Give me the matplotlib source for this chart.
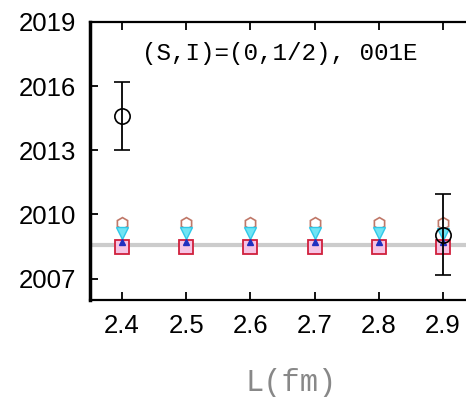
import matplotlib.pyplot as plt

# lattice sizes
L = [2.4, 2.5, 2.6, 2.7, 2.8, 2.9]

# mass estimates per method
hex_vals = [2009.6, 2009.6, 2009.6, 2009.6, 2009.6, 2009.6]
tri_down_vals = [2009.15, 2009.15, 2009.15, 2009.15, 2009.15, 2009.1]
tri_up_vals = [2008.7, 2008.7, 2008.7, 2008.7, 2008.7, 2008.7]
square_vals = [2008.5, 2008.5, 2008.5, 2008.5, 2008.5, 2008.5]

# measured points with errors
L_meas = [2.4, 2.9]
meas_vals = [2014.6, 2009.05]
meas_err = [1.6, 1.9]

# reference level
ref_level = 2008.55

yticks = [2007, 2010, 2013, 2016, 2019]
xticks = [2.4, 2.5, 2.6, 2.7, 2.8, 2.9]

fig = plt.figure(figsize=(4.66, 3.97), dpi=100)
ax = fig.add_axes([0.193, 0.2443, 0.895, 0.7003])

ax.axhline(ref_level, color='#cccccc', lw=3, zorder=1)

ax.plot(L, hex_vals, 'h', ms=8.5, mfc='none', mec='#c07868', mew=1.2, zorder=3)
ax.plot(L, tri_down_vals, 'v', ms=8, mfc='#70e4f4', mec='#30c8e8', zorder=3)
ax.plot(L, square_vals, 's', ms=9.5, mfc='#f6c4e4', mec='#d0203c', mew=1.3, zorder=3)
ax.plot(L, tri_up_vals, '^', ms=5, mfc='#2030c0', mec='#2030c0', zorder=4)

ax.errorbar(L_meas, meas_vals, yerr=meas_err, fmt='o', ms=11, mfc='none',
            mec='black', mew=1.2, ecolor='black', elinewidth=1.3,
            capsize=6, capthick=1.3, zorder=5)

ax.set_xlim(2.35, 3.0)
ax.set_ylim(2006, 2019)
ax.set_xticks(xticks)
ax.set_xticklabels([f'{x:.1f}' for x in xticks])
ax.set_yticks(yticks)

ax.tick_params(direction='in', length=6, width=1.3, labelsize=18.5,
               top=True, right=True, pad=10)
for lab in ax.get_xticklabels() + ax.get_yticklabels():
    lab.set_family('Liberation Sans')
ax.spines['left'].set_linewidth(2.5)
for s in ['top', 'bottom', 'right']:
    ax.spines[s].set_linewidth(1.6)

ax.text(0.125, 0.885, '(S,I)=(0,1/2), 001E', transform=ax.transAxes,
        family='Liberation Mono', fontsize=17.5,
        va='center', ha='left')

fig.text(291 / 466, 1 - 383 / 397, 'L(fm)', family='Liberation Mono',
         fontsize=22, color='#888888', ha='center', va='center')

fig.savefig('out.png', dpi=100)
